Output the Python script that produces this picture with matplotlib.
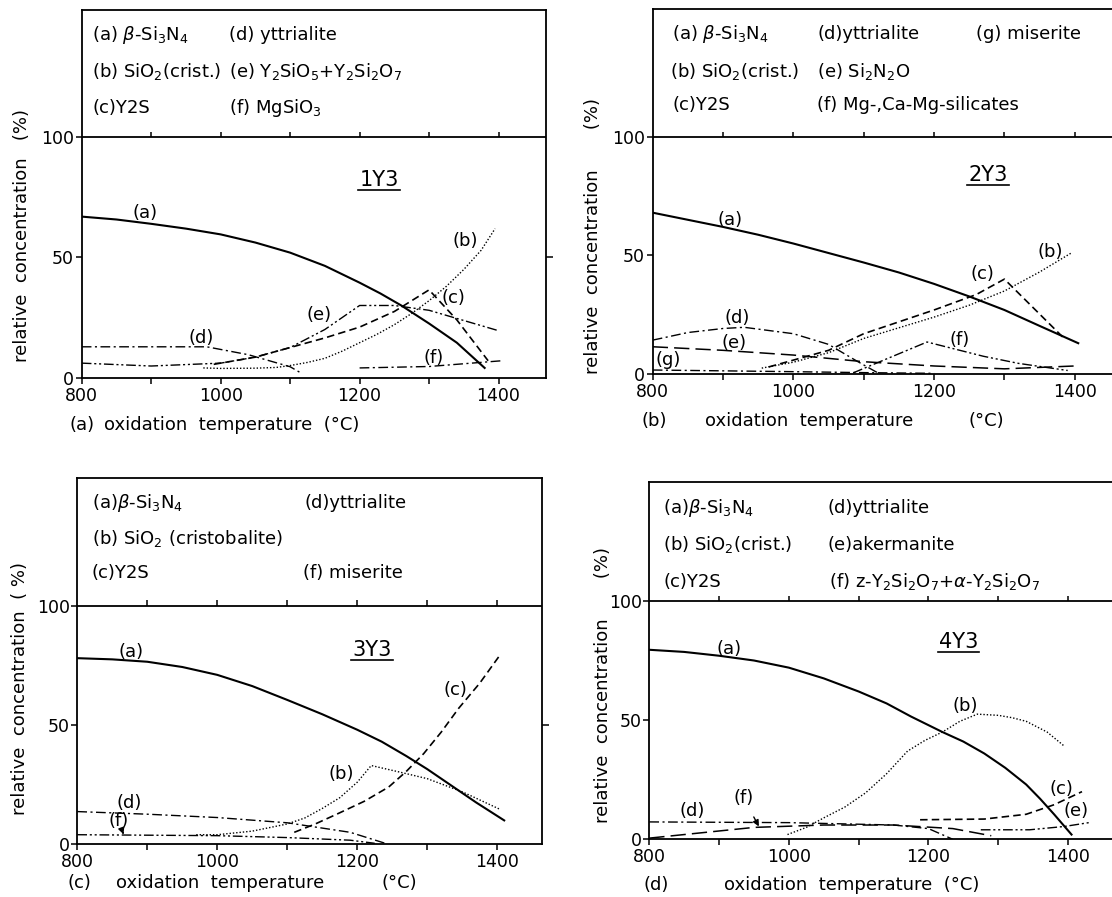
import matplotlib.pyplot as plt

plt.rcParams['font.family'] = 'DejaVu Sans'
plt.rcParams['mathtext.fontset'] = 'dejavusans'

# ---------------- data (oxidation temperature in C, concentration in %) ----------------
# (a) 1Y3
p1_a_t = [800, 850, 900, 950, 1000, 1050, 1100, 1150, 1200, 1230, 1260, 1300, 1340, 1380]
p1_a_c = [67, 65.8, 64, 62, 59.6, 56.2, 52, 46.5, 39.5, 35, 30, 22.5, 14.5, 4]
p1_b_t = [975, 1000, 1050, 1080, 1100, 1125, 1150, 1175, 1200, 1225, 1250, 1275, 1300, 1325, 1350, 1375, 1395]
p1_b_c = [4, 3.8, 3.9, 4.2, 5, 6.3, 8, 11, 14.5, 18, 22, 26.7, 32, 38, 45, 53, 62]
p1_c_t = [990, 1050, 1100, 1150, 1200, 1250, 1300, 1340, 1385]
p1_c_c = [5.5, 8.5, 12.5, 16.5, 21, 27.5, 36.5, 24, 7]
p1_d_t = [800, 900, 980, 1040, 1100, 1115]
p1_d_c = [12.8, 12.8, 12.8, 9.5, 4.5, 2]
p1_e_t = [800, 900, 1000, 1050, 1100, 1150, 1200, 1250, 1300, 1400]
p1_e_c = [6, 4.8, 6, 8.5, 12.5, 20, 30, 30, 28, 19.5]
p1_f_t = [1200, 1300, 1405]
p1_f_c = [4, 4.6, 7]

# (b) 2Y3
p2_a_t = [800, 850, 900, 950, 1000, 1050, 1100, 1150, 1200, 1250, 1300, 1350, 1405]
p2_a_c = [68, 65, 62, 58.7, 55, 51, 47, 42.8, 38, 32.7, 27, 20.3, 13]
p2_b_t = [955, 1000, 1050, 1100, 1150, 1200, 1250, 1300, 1350, 1395]
p2_b_c = [2.5, 5, 9, 15, 19.5, 24, 29, 35, 43, 51]
p2_c_t = [965, 1050, 1100, 1200, 1260, 1300, 1385]
p2_c_c = [3, 10, 17, 27, 33.5, 40, 15]
p2_d_t = [800, 850, 900, 930, 1000, 1050, 1090, 1120]
p2_d_c = [14.3, 17.5, 19.2, 19.7, 17, 12.5, 5.5, 0.5]
p2_e_t = [800, 900, 1000, 1100, 1200, 1300, 1400]
p2_e_c = [11.5, 10, 8, 5.2, 3.4, 2.2, 3.4]
p2_f_t = [1085, 1190, 1270, 1320, 1390]
p2_f_c = [0.5, 13.5, 7.5, 4.5, 1.5]
p2_g_t = [800, 1000, 1100, 1200]
p2_g_c = [1.7, 1, 0.6, 0.3]

# (c) 3Y3
p3_a_t = [800, 850, 900, 950, 1000, 1050, 1100, 1150, 1200, 1235, 1270, 1300, 1335, 1370, 1410]
p3_a_c = [78, 77.5, 76.5, 74.3, 71, 66.3, 60.5, 54.5, 48, 43, 37, 31.5, 24.5, 17.5, 10]
p3_b_t = [970, 1000, 1050, 1100, 1125, 1150, 1175, 1200, 1220, 1260, 1300, 1350, 1405]
p3_b_c = [4, 4, 5.5, 8.5, 11, 15, 19.5, 26, 33, 30.3, 27.5, 22, 14.5]
p3_c_t = [1110, 1140, 1170, 1210, 1245, 1270, 1295, 1320, 1345, 1375, 1402]
p3_c_c = [5, 8.5, 12.5, 18, 24, 30.5, 38, 47, 57, 67.5, 78.5]
p3_d_t = [800, 900, 1000, 1100, 1190, 1240]
p3_d_c = [13.7, 12.6, 11.2, 9, 5, 0.4]
p3_f_t = [800, 1000, 1100, 1190, 1225]
p3_f_c = [4, 3.6, 2.8, 1.7, 0.4]

# (d) 4Y3
p4_a_t = [800, 850, 900, 950, 1000, 1050, 1100, 1140, 1175, 1220, 1250, 1280, 1310, 1340, 1360, 1380, 1405]
p4_a_c = [79.5, 78.6, 77, 75, 72, 67.5, 62, 57, 51.5, 45, 41, 36, 30, 23, 17, 10.5, 2]
p4_b_t = [998, 1025, 1050, 1080, 1110, 1140, 1170, 1195, 1220, 1245, 1270, 1300, 1320, 1340, 1370, 1395]
p4_b_c = [2, 5, 9, 13.5, 19.5, 27.5, 37, 41.5, 45, 49.5, 52.5, 52, 51, 49.5, 45, 39]
p4_c_t = [1188, 1280, 1340, 1380, 1420]
p4_c_c = [8.2, 8.5, 10.5, 14.5, 20]
p4_d_t = [800, 1000, 1150, 1200, 1235]
p4_d_c = [7.3, 7, 6, 4.5, 0]
p4_e_t = [1275, 1345, 1395, 1430]
p4_e_c = [4, 4, 5.4, 7]
p4_f_t = [800, 950, 1050, 1150, 1235, 1290]
p4_f_c = [0.5, 5, 6, 6, 4.5, 1.5]

# ---------------- styles ----------------
SOLID = ('-', 1.5)
DOT = ((0, (1, 1.4)), 1.0)
DASH = ((0, (4.5, 2.5)), 1.2)
DASHDOT = ((0, (7, 2.5, 1.5, 2.5)), 1.0)
DASHDOTDOT = ((0, (7, 2, 1.5, 2, 1.5, 2)), 1.0)
LONGDASH = ((0, (10, 4)), 1.1)

panels = [
    dict(rect=[0.0735, 0.5791, 0.4173, 0.4097], xmax=1468, ymax=153, right=True,
         curves=[(p1_a_t, p1_a_c, SOLID), (p1_b_t, p1_b_c, DOT), (p1_c_t, p1_c_c, DASH),
                 (p1_d_t, p1_d_c, DASHDOT), (p1_e_t, p1_e_c, DASHDOTDOT), (p1_f_t, p1_f_c, DASHDOT)],
         labels=[('(a)', 891, 68.7), ('(b)', 1352, 57), ('(c)', 1335, 33),
                 ('(d)', 972, 16.5), ('(e)', 1141, 26), ('(f)', 1306, 8)],
         legend=[(r'(a) $\beta$-Si$_3$N$_4$', 815, 142.7), ('(d) yttrialite', 1012, 142.7),
                 (r'(b) SiO$_2$(crist.)', 815, 127.3), (r'(e) Y$_2$SiO$_5$+Y$_2$Si$_2$O$_7$', 1012, 127.3),
                 ('(c)Y2S', 815, 112.3), (r'(f) MgSiO$_3$', 1012, 112.3)],
         title=('1Y3', 1228, 82.3),
         xlabel=([('(a)', 783), ('oxidation  temperature  (°C)', 832)], -19.7),
         ylabel=('relative  concentration   (%)', 21.7, 235)),
    dict(rect=[0.587, 0.583, 0.413, 0.4066], xmax=1453, ymax=153.7, right=False,
         curves=[(p2_a_t, p2_a_c, SOLID), (p2_b_t, p2_b_c, DOT), (p2_c_t, p2_c_c, DASH),
                 (p2_d_t, p2_d_c, DASHDOT), (p2_e_t, p2_e_c, LONGDASH), (p2_f_t, p2_f_c, DASHDOTDOT),
                 (p2_g_t, p2_g_c, DASHDOT)],
         labels=[('(a)', 910, 65), ('(b)', 1365, 51.5), ('(c)', 1269, 42),
                 ('(d)', 920, 23.5), ('(e)', 915, 13), ('(f)', 1237, 14.5), ('(g)', 822, 6)],
         legend=[(r'(a) $\beta$-Si$_3$N$_4$', 828, 143.5), ('(d)yttrialite', 1034, 143.5),
                 ('(g) miserite', 1259, 143.5),
                 (r'(b) SiO$_2$(crist.)', 825, 127.4), (r'(e) Si$_2$N$_2$O', 1034, 127.4),
                 ('(c)Y2S', 828, 113.3), ('(f) Mg-,Ca-Mg-silicates', 1034, 113.3)],
         title=('2Y3', 1277, 83.8),
         xlabel=([('(b)', 784), ('oxidation  temperature', 875), ('(°C)', 1249)], -19.7),
         ylabel=('relative  concentration       (%)', 593, 236.5)),
    dict(rect=[0.0695, 0.0588, 0.4179, 0.408], xmax=1464, ymax=153.4, right=True,
         curves=[(p3_a_t, p3_a_c, SOLID), (p3_b_t, p3_b_c, DOT), (p3_c_t, p3_c_c, DASH),
                 (p3_d_t, p3_d_c, DASHDOT), (p3_f_t, p3_f_c, DASHDOTDOT)],
         labels=[('(a)', 877, 80.6), ('(b)', 1177, 29.5), ('(c)', 1341, 64.8),
                 ('(d)', 874, 17.5)],
         legend=[(r'(a)$\beta$-Si$_3$N$_4$', 821, 143), ('(d)yttrialite', 1125, 143),
                 (r'(b) SiO$_2$ (cristobalite)', 821, 128.2),
                 ('(c)Y2S', 821, 113.6), ('(f) miserite', 1122, 113.6)],
         title=('3Y3', 1221, 81.3),
         arrow=('(f)', 859, 9.8, 866, 4.2),
         xlabel=([('(c)', 786), ('oxidation  temperature', 856), ('(°C)', 1235)], -16.3),
         ylabel=('relative  concentration  ( %)', 20, 688)),
    dict(rect=[0.5839, 0.0643, 0.4161, 0.3987], xmax=1463, ymax=150, right=False,
         curves=[(p4_a_t, p4_a_c, SOLID), (p4_b_t, p4_b_c, DOT), (p4_c_t, p4_c_c, DASH),
                 (p4_d_t, p4_d_c, DASHDOT), (p4_e_t, p4_e_c, DASHDOTDOT), (p4_f_t, p4_f_c, LONGDASH)],
         labels=[('(a)', 914, 80), ('(b)', 1253, 56), ('(c)', 1391, 21),
                 ('(e)', 1412, 11.7), ('(d)', 861, 11.7)],
         legend=[(r'(a)$\beta$-Si$_3$N$_4$', 820, 138.9), ('(d)yttrialite', 1056, 138.9),
                 (r'(b) SiO$_2$(crist.)', 820, 123.5), ('(e)akermanite', 1056, 123.5),
                 ('(c)Y2S', 820, 108.1),
                 (r'(f) z-Y$_2$Si$_2$O$_7$+$\alpha$-Y$_2$Si$_2$O$_7$', 1058, 108.1)],
         title=('4Y3', 1243, 82.6),
         arrow=('(f)', 935, 17.4, 957, 5.4),
         xlabel=([('(d)', 791), ('oxidation  temperature  (°C)', 907)], -19.0),
         ylabel=('relative  concentration       (%)', 603, 685)),
]

W, H = 1112, 897
fig = plt.figure(figsize=(W / 100, H / 100), dpi=100)
fig.patch.set_facecolor('white')

top_ticks = [900, 1000, 1100, 1200, 1300, 1400]

for p in panels:
    ax = fig.add_axes(p['rect'])
    ax.set_xlim(800, p['xmax'])
    ax.set_ylim(0, p['ymax'])
    for s in ax.spines.values():
        s.set_linewidth(1.3)
    ax.spines['right'].set_visible(p['right'])

    ax.set_xticks([800, 1000, 1200, 1400])
    ax.set_xticks([900, 1100, 1300], minor=True)
    ax.set_yticks([0, 50, 100])
    ax.tick_params(axis='both', which='both', direction='out', labelsize=12.5,
                   width=1.1, length=4.5, pad=2)
    ax.tick_params(axis='y', pad=1)

    if p['right']:
        ax2 = ax.twinx()
        ax2.set_ylim(0, p['ymax'])
        ax2.set_yticks([50])
        ax2.set_yticklabels([])
        ax2.tick_params(direction='out', length=5, width=1.1)
        for s in ax2.spines.values():
            s.set_visible(False)

    # separator at 100 % with upward ticks
    ax.axhline(100, color='k', lw=1.3)
    ax.vlines(top_ticks, 100, 100 + 2.2, color='k', lw=1.1)

    for t, c, (ls, lw) in p['curves']:
        ax.plot(t, c, color='k', linestyle=ls, lw=lw)

    for txt, x, y in p['labels']:
        ax.text(x, y, txt, fontsize=13, ha='center', va='center')

    if 'arrow' in p:
        txt, x, y, xa, ya = p['arrow']
        ax.annotate(txt, xy=(xa, ya), xytext=(x, y), fontsize=13, ha='center', va='center',
                    arrowprops=dict(arrowstyle='-|>', color='k', lw=1.0,
                                    shrinkA=6, shrinkB=0, mutation_scale=9))

    for txt, x, y in p['legend']:
        ax.text(x, y, txt, fontsize=13, ha='left', va='center')

    txt, x, y = p['title']
    ax.text(x, y, txt, fontsize=15, ha='center', va='center')
    ax.plot([x - 30, x + 30], [y - 4.2, y - 4.2], color='k', lw=1.2)

    parts, ylab = p['xlabel']
    for txt, x in parts:
        ax.text(x, ylab, txt, fontsize=13, ha='left', va='center', clip_on=False)

    txt, px, py = p['ylabel']
    fig.text(px / W, 1 - py / H, txt, fontsize=13, rotation=90, ha='center', va='center')

fig.savefig('out.png', dpi=100)
